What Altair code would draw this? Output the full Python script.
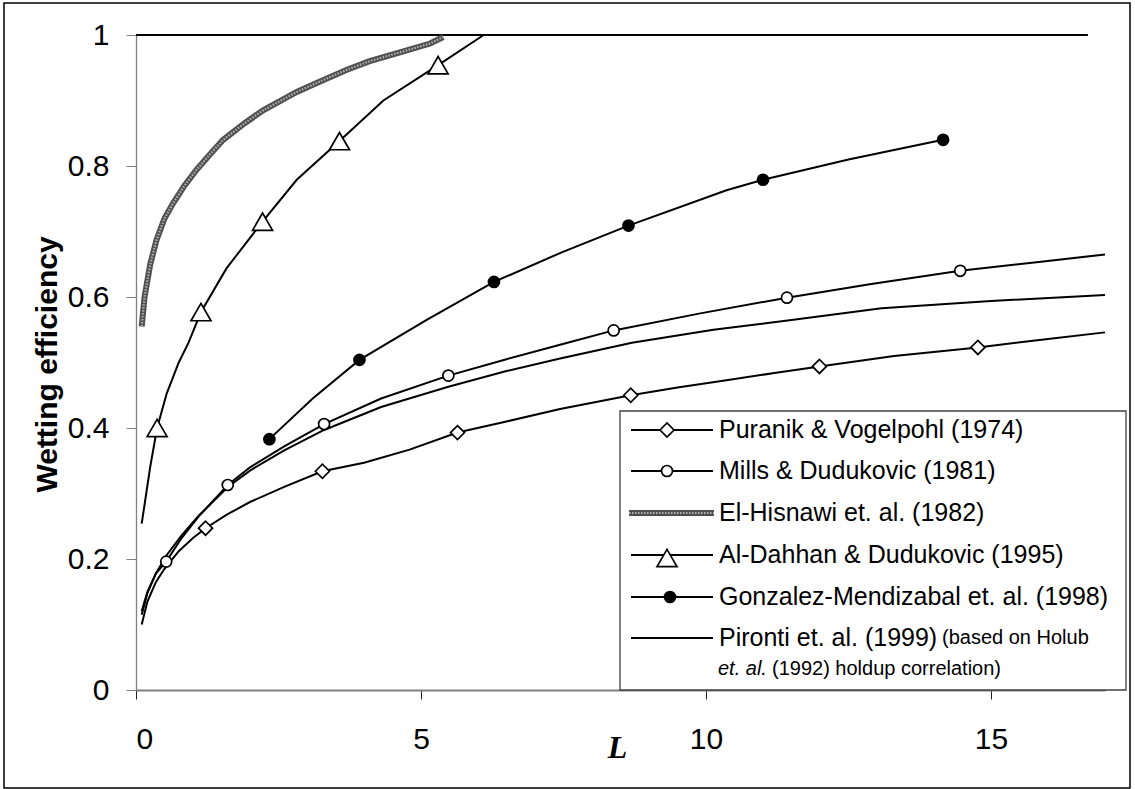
import altair as alt
import pandas as pd

# ---------------- data ----------------
# Puranik & Vogelpohl (1974)
pv_L = [0.1, 0.2, 0.35, 0.5, 0.75, 1.0, 1.22, 1.6, 2.0, 2.6, 3.27, 4.0, 4.8, 5.64, 6.5, 7.44, 8.68, 9.5, 10.3, 11.2, 11.99, 13.3, 14.77, 16.0, 17.0]
pv_E = [0.100, 0.135, 0.165, 0.185, 0.212, 0.232, 0.247, 0.268, 0.287, 0.310, 0.334, 0.347, 0.367, 0.393, 0.410, 0.429, 0.450, 0.462, 0.472, 0.484, 0.494, 0.510, 0.523, 0.536, 0.546]
pv_mark_L = [1.22, 3.27, 5.64, 8.68, 11.99, 14.77]
pv_mark_E = [0.247, 0.334, 0.393, 0.450, 0.494, 0.523]

# Mills & Dudukovic (1981)
md_L = [0.1, 0.2, 0.35, 0.53, 0.8, 1.1, 1.61, 2.0, 2.6, 3.30, 4.3, 5.48, 6.5, 7.44, 8.38, 9.9, 11.42, 12.9, 14.46, 15.8, 17.0]
md_E = [0.120, 0.150, 0.178, 0.196, 0.232, 0.265, 0.313, 0.340, 0.372, 0.406, 0.445, 0.480, 0.505, 0.527, 0.549, 0.575, 0.599, 0.620, 0.640, 0.653, 0.665]
md_mark_L = [0.53, 1.61, 3.30, 5.48, 8.38, 11.42, 14.46]
md_mark_E = [0.196, 0.313, 0.406, 0.480, 0.549, 0.599, 0.640]

# El-Hisnawi et. al. (1982)
eh_L = [0.1, 0.15, 0.25, 0.36, 0.5, 0.65, 0.85, 1.06, 1.3, 1.53, 1.9, 2.23, 2.82, 3.2, 3.70, 4.1, 4.57, 5.16, 5.39]
eh_E = [0.555, 0.600, 0.650, 0.687, 0.720, 0.743, 0.770, 0.794, 0.818, 0.840, 0.865, 0.885, 0.913, 0.928, 0.947, 0.960, 0.972, 0.987, 0.997]

# Al-Dahhan & Dudukovic (1995)
ad_L = [0.1, 0.25, 0.37, 0.54, 0.75, 0.92, 1.14, 1.59, 2.22, 2.82, 3.57, 4.34, 5.3, 6.1]
ad_E = [0.254, 0.341, 0.400, 0.453, 0.500, 0.530, 0.577, 0.644, 0.715, 0.779, 0.838, 0.900, 0.954, 1.0]
ad_mark_L = [0.37, 1.14, 2.22, 3.57, 5.3]
ad_mark_E = [0.400, 0.577, 0.715, 0.838, 0.954]

# Gonzalez-Mendizabal et. al. (1998)
gm_L = [2.34, 3.1, 3.92, 5.1, 6.28, 7.49, 8.64, 10.36, 11.0, 12.5, 14.16]
gm_E = [0.383, 0.445, 0.504, 0.565, 0.623, 0.669, 0.709, 0.763, 0.779, 0.810, 0.840]
gm_mark_L = [2.34, 3.92, 6.28, 8.64, 11.0, 14.16]
gm_mark_E = [0.383, 0.504, 0.623, 0.709, 0.779, 0.840]

# Pironti et. al. (1999)
pi_L = [0.1, 0.2, 0.35, 0.53, 0.8, 1.1, 1.61, 2.0, 2.6, 3.3, 4.3, 5.48, 6.5, 7.44, 8.7, 10.13, 11.5, 13.08, 15.0, 17.0]
pi_E = [0.115, 0.148, 0.178, 0.205, 0.236, 0.266, 0.310, 0.335, 0.366, 0.397, 0.432, 0.463, 0.487, 0.506, 0.530, 0.550, 0.565, 0.583, 0.594, 0.603]

# upper limit line (wetting efficiency = 1)
top_L = [0.0, 16.7]
top_E = [1.0, 1.0]

x_ticks = [0, 5, 10, 15]
y_ticks = [0, 0.2, 0.4, 0.6, 0.8, 1]

legend_labels = [
    "Puranik & Vogelpohl (1974)",
    "Mills & Dudukovic (1981)",
    "El-Hisnawi et. al. (1982)",
    "Al-Dahhan & Dudukovic (1995)",
    "Gonzalez-Mendizabal et. al. (1998)",
    "Pironti et. al. (1999)",
]
pironti_note_1 = "(based on Holub"
pironti_note_2a = "et. al."
pironti_note_2b = "(1992) holdup correlation)"

FONT = "Liberation Sans"
HATCH_DARK = "#505050"
HATCH_LIGHT = "#b4b4b4"

# ---------------- encodings ----------------
x_axis = alt.Axis(
    values=x_ticks, grid=False, labelFont=FONT, labelFontSize=30, labelColor="black",
    labelPadding=25, tickSize=9, tickColor="#222222", tickWidth=1,
    domainColor="#808080", domainWidth=2,
    title="L", titleFont="Liberation Serif", titleFontSize=32, titleFontStyle="italic",
    titleFontWeight="bold", titleColor="black", titleX=481, titleY=57,
    titleBaseline="middle", titleAlign="center",
)
y_axis = alt.Axis(
    values=y_ticks, format="~g", grid=False, labelFont=FONT, labelFontSize=30, labelColor="black",
    labelPadding=17, tickSize=10, tickColor="#808080", tickWidth=1,
    domainColor="#808080", domainWidth=1.3,
    title="Wetting efficiency", titleFont=FONT, titleFontSize=30, titleFontWeight="bold",
    titleColor="black", titleAngle=270, titleX=-80, titleY=329,
    titleAlign="center", titleBaseline="alphabetic",
)


def X():
    return alt.X("L:Q", scale=alt.Scale(domain=[0, 17], nice=False, zero=False), axis=x_axis)


def Y():
    return alt.Y("E:Q", scale=alt.Scale(domain=[0, 1], nice=False), axis=y_axis)


def df(xs, ys):
    return pd.DataFrame({"L": xs, "E": ys})


LW = 2


def line(xs, ys, **kw):
    props = dict(color="black", strokeWidth=LW)
    props.update(kw)
    return alt.Chart(df(xs, ys)).mark_line(**props).encode(x=X(), y=Y())


def pts(xs, ys, shape, size, fill):
    return alt.Chart(df(xs, ys)).mark_point(
        shape=shape, size=size, filled=True, fill=fill, stroke="black", strokeWidth=1.7, opacity=1
    ).encode(x=X(), y=Y())


one = pd.DataFrame({"a": [0]})

layers = []
# outer frame
layers.append(alt.Chart(one).mark_rect(fill="white", fillOpacity=0, stroke="black", strokeWidth=1.5).encode(
    x=alt.value(-132), x2=alt.value(994), y=alt.value(-32), y2=alt.value(753)))

layers.append(line(top_L, top_E, strokeWidth=2))
layers.append(line(eh_L, eh_E, color=HATCH_DARK, strokeWidth=6))
layers.append(line(eh_L, eh_E, color=HATCH_LIGHT, strokeWidth=2.2, strokeDash=[1.5, 1.5]))
layers.append(line(ad_L, ad_E))
layers.append(line(gm_L, gm_E))
layers.append(line(pi_L, pi_E))
layers.append(line(md_L, md_E))
layers.append(line(pv_L, pv_E))
layers.append(pts(pv_mark_L, pv_mark_E, "diamond", 196, "white"))
layers.append(pts(md_mark_L, md_mark_E, "circle", 121, "white"))
layers.append(pts(ad_mark_L, ad_mark_E, "triangle-up", 400, "white"))
layers.append(pts(gm_mark_L, gm_mark_E, "circle", 121, "black"))

# ---------------- legend (drawn by hand) ----------------
layers.append(alt.Chart(one).mark_rect(fill="white", stroke="#404040", strokeWidth=1.3).encode(
    x=alt.value(484), x2=alt.value(990), y=alt.value(376), y2=alt.value(655)))

row_y = [395, 436, 478, 520, 562, 603]
marker_specs = [("diamond", 196, "white"), ("circle", 121, "white"), None,
                ("triangle-up", 400, "white"), ("circle", 121, "black"), None]
for i, lab in enumerate(legend_labels):
    yy = row_y[i]
    if i == 2:
        layers.append(alt.Chart(one).mark_rule(color=HATCH_DARK, strokeWidth=6).encode(
            x=alt.value(493), x2=alt.value(578), y=alt.value(yy)))
        layers.append(alt.Chart(one).mark_rule(color=HATCH_LIGHT, strokeWidth=2.2, strokeDash=[1.5, 1.5]).encode(
            x=alt.value(493), x2=alt.value(578), y=alt.value(yy)))
    else:
        layers.append(alt.Chart(one).mark_rule(color="black", strokeWidth=LW).encode(
            x=alt.value(495), x2=alt.value(577), y=alt.value(yy)))
    spec = marker_specs[i]
    if spec is not None:
        shape, size, fill = spec
        mx = 534 if fill == "black" else 531
        layers.append(alt.Chart(one).mark_point(
            shape=shape, size=size, filled=True, fill=fill, stroke="black", strokeWidth=1.7, opacity=1
        ).encode(x=alt.value(mx), y=alt.value(yy + (3 if shape == "triangle-up" else 0))))
    layers.append(alt.Chart(one).mark_text(
        text=lab, font=FONT, fontSize=25, align="left", baseline="middle", color="black"
    ).encode(x=alt.value(583), y=alt.value(yy)))

layers.append(alt.Chart(one).mark_text(
    text=pironti_note_1, font=FONT, fontSize=20, align="left", baseline="middle", color="black"
).encode(x=alt.value(806), y=alt.value(603)))
layers.append(alt.Chart(one).mark_text(
    text=pironti_note_2a, font=FONT, fontSize=20, fontStyle="italic", align="left", baseline="middle", color="black"
).encode(x=alt.value(582), y=alt.value(634)))
layers.append(alt.Chart(one).mark_text(
    text=pironti_note_2b, font=FONT, fontSize=20, align="left", baseline="middle", color="black"
).encode(x=alt.value(636), y=alt.value(634)))

chart = alt.layer(*layers).properties(
    width=969, height=655,
    padding={"left": 136, "top": 35, "right": 30, "bottom": 99},
    autosize=alt.AutoSizeParams(type="none"),
    background="white",
).configure_view(strokeOpacity=0)

chart.save("out.html", embed_options={"renderer": "svg", "actions": False})
